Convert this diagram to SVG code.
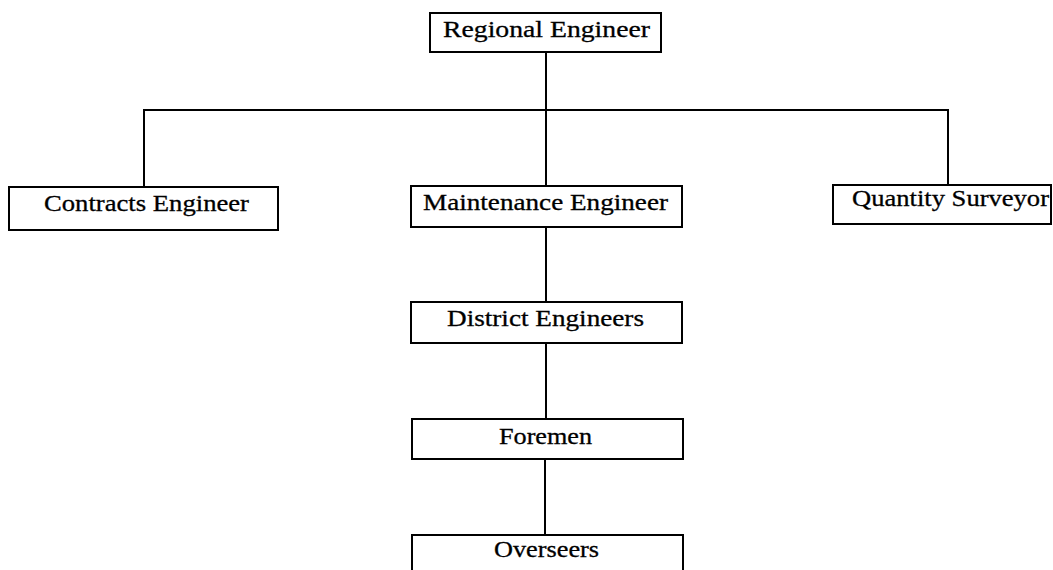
<svg xmlns="http://www.w3.org/2000/svg" width="1053" height="570" viewBox="0 0 1053 570">
<style>
.box{fill:#fff;stroke:#000;stroke-width:2}
.lbl{font-family:"Liberation Serif","Times New Roman",serif;font-size:24px;fill:#000;stroke:#000;stroke-width:0.3}
.con{stroke:#000;stroke-width:2;fill:none}
</style>
<rect width="1053" height="570" fill="#fff"/>
<g id="connectors">
<path class="con" d="M546,52 V110"/>
<path class="con" d="M144,187 V110 H948 V185"/>
<path class="con" d="M546,110 V186"/>
<path class="con" d="M546,227 V302"/>
<path class="con" d="M546,343 V419"/>
<path class="con" d="M545,459 V535"/>
</g>
<g id="regional-engineer">
<rect class="box" x="430" y="13" width="231" height="39"/>
<text class="lbl" x="443" y="37" textLength="207" lengthAdjust="spacingAndGlyphs">Regional Engineer</text>
</g>
<g id="contracts-engineer">
<rect class="box" x="9" y="187" width="269" height="43"/>
<text class="lbl" x="44" y="211" textLength="205" lengthAdjust="spacingAndGlyphs">Contracts Engineer</text>
</g>
<g id="maintenance-engineer">
<rect class="box" x="411" y="186" width="271" height="41"/>
<text class="lbl" x="423" y="210" textLength="245" lengthAdjust="spacingAndGlyphs">Maintenance Engineer</text>
</g>
<g id="quantity-surveyor">
<rect class="box" x="833" y="185" width="218" height="39"/>
<text class="lbl" x="852" y="206" textLength="197" lengthAdjust="spacingAndGlyphs">Quantity Surveyor</text>
</g>
<g id="district-engineers">
<rect class="box" x="411" y="302" width="271" height="41"/>
<text class="lbl" x="447" y="326" textLength="197" lengthAdjust="spacingAndGlyphs">District Engineers</text>
</g>
<g id="foremen">
<rect class="box" x="412" y="419" width="271" height="40"/>
<text class="lbl" x="499" y="444" textLength="93" lengthAdjust="spacingAndGlyphs">Foremen</text>
</g>
<g id="overseers">
<rect class="box" x="412" y="535" width="271" height="45"/>
<text class="lbl" x="494" y="557" textLength="105" lengthAdjust="spacingAndGlyphs">Overseers</text>
</g>
</svg>
